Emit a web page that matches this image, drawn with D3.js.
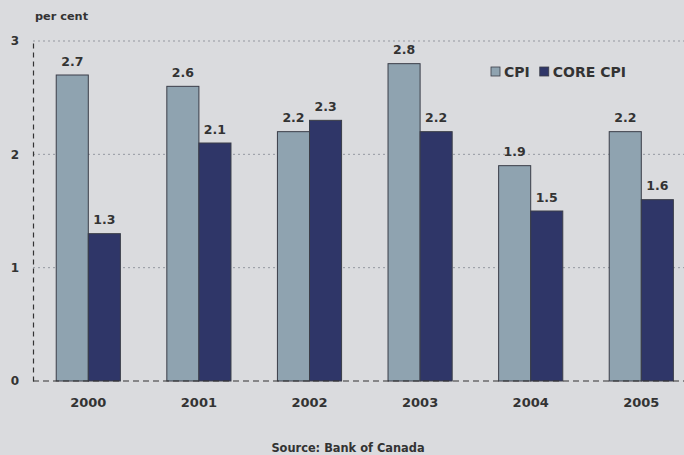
<!DOCTYPE html>
<html><head><meta charset="utf-8">
<script src="https://cdn.jsdelivr.net/npm/d3@7"></script>
<style>body{margin:0;background:#dadbde;}svg{display:block;font-family:"DejaVu Sans",sans-serif;font-weight:bold;}</style>
</head><body>
<script>
const years = ["2000","2001","2002","2003","2004","2005"];
const seriesNames = ["CPI","CORE CPI"];
const cpi = [2.7,2.6,2.2,2.8,1.9,2.2];
const coreCpi = [1.3,2.1,2.3,2.2,1.5,1.6];
const yTicks = [0,1,2,3];
const colors = ["#8fa3b0","#2f3668"];

const W=684,H=455;
const FONT="DejaVu Sans, sans-serif";
const svg=d3.select("body").append("svg").attr("width",W).attr("height",H);
svg.append("rect").attr("width",W).attr("height",H).attr("fill","#dadbde");

const x0=33, yTop=41, yBot=381;
const y=d3.scaleLinear().domain([0,3]).range([yBot,yTop]);
const x=d3.scaleBand().domain(years).range([x0,x0+6*110.6]).paddingInner(0.42).paddingOuter(0.21);
const x1=d3.scaleBand().domain(seriesNames).range([0,x.bandwidth()]);

// gridlines
svg.append("g").selectAll("line").data(yTicks.filter(d=>d>0)).join("line")
  .attr("x1",x0).attr("x2",W).attr("y1",d=>y(d)).attr("y2",d=>y(d))
  .attr("stroke","#9598a0").attr("stroke-width",1).attr("stroke-dasharray","2,3");

// y axis
const yAxis=svg.append("g").attr("transform",`translate(${x0},0)`)
  .call(d3.axisLeft(y).tickValues(yTicks).tickFormat(d3.format("d")).tickSize(0).tickPadding(14));
yAxis.select(".domain").attr("stroke","#333").attr("stroke-dasharray","5,4").attr("stroke-width",1.2);
yAxis.selectAll("text").attr("font-size",12).attr("font-weight","bold").attr("fill","#333").attr("font-family",FONT);

const data = years.map((yr,i)=>({year:yr, vals:[{k:"CPI",v:cpi[i]},{k:"CORE CPI",v:coreCpi[i]}]}));
const g=svg.append("g").selectAll("g").data(data).join("g").attr("transform",d=>`translate(${x(d.year)},0)`);
g.selectAll("rect").data(d=>d.vals).join("rect")
  .attr("x",d=>x1(d.k)).attr("width",x1.bandwidth())
  .attr("y",d=>y(d.v)).attr("height",d=>yBot-y(d.v))
  .attr("fill",(d,i)=>colors[i]).attr("stroke","#3a3d48").attr("stroke-width",1);
g.selectAll("text").data(d=>d.vals).join("text")
  .attr("x",d=>x1(d.k)+x1.bandwidth()/2).attr("y",d=>y(d.v)-9.5)
  .attr("text-anchor","middle").attr("font-size",12.5).attr("fill","#333")
  .text(d=>d3.format(".1f")(d.v));

// x axis
const xAxis=svg.append("g").attr("transform",`translate(0,${yBot})`)
  .call(d3.axisBottom(x).tickSize(0).tickPadding(17));
xAxis.select(".domain").attr("d",`M${x0},0H${W}`).attr("stroke","#333").attr("stroke-dasharray","6,4").attr("stroke-width",1.2);
xAxis.selectAll("text").attr("font-size",13).attr("font-weight","bold").attr("fill","#333").attr("font-family",FONT);

svg.append("text").attr("x",35).attr("y",20).attr("font-size",11.3).attr("fill","#333").text("per cent");
svg.append("text").attr("x",348).attr("y",452).attr("text-anchor","middle").attr("font-size",11.4).attr("fill","#333").text("Source: Bank of Canada");

// legend
const leg=svg.append("g").attr("transform","translate(491,67)");
let lx=0;
seriesNames.forEach((n,i)=>{
  leg.append("rect").attr("x",lx).attr("y",0).attr("width",9).attr("height",9).attr("fill",colors[i]).attr("stroke","#3a3d48").attr("stroke-width",0.8);
  const t=leg.append("text").attr("x",lx+13).attr("y",10).attr("font-size",14).attr("fill","#333").text(n);
  lx+=13+t.node().getComputedTextLength()+10;
});
</script>
</body></html>
